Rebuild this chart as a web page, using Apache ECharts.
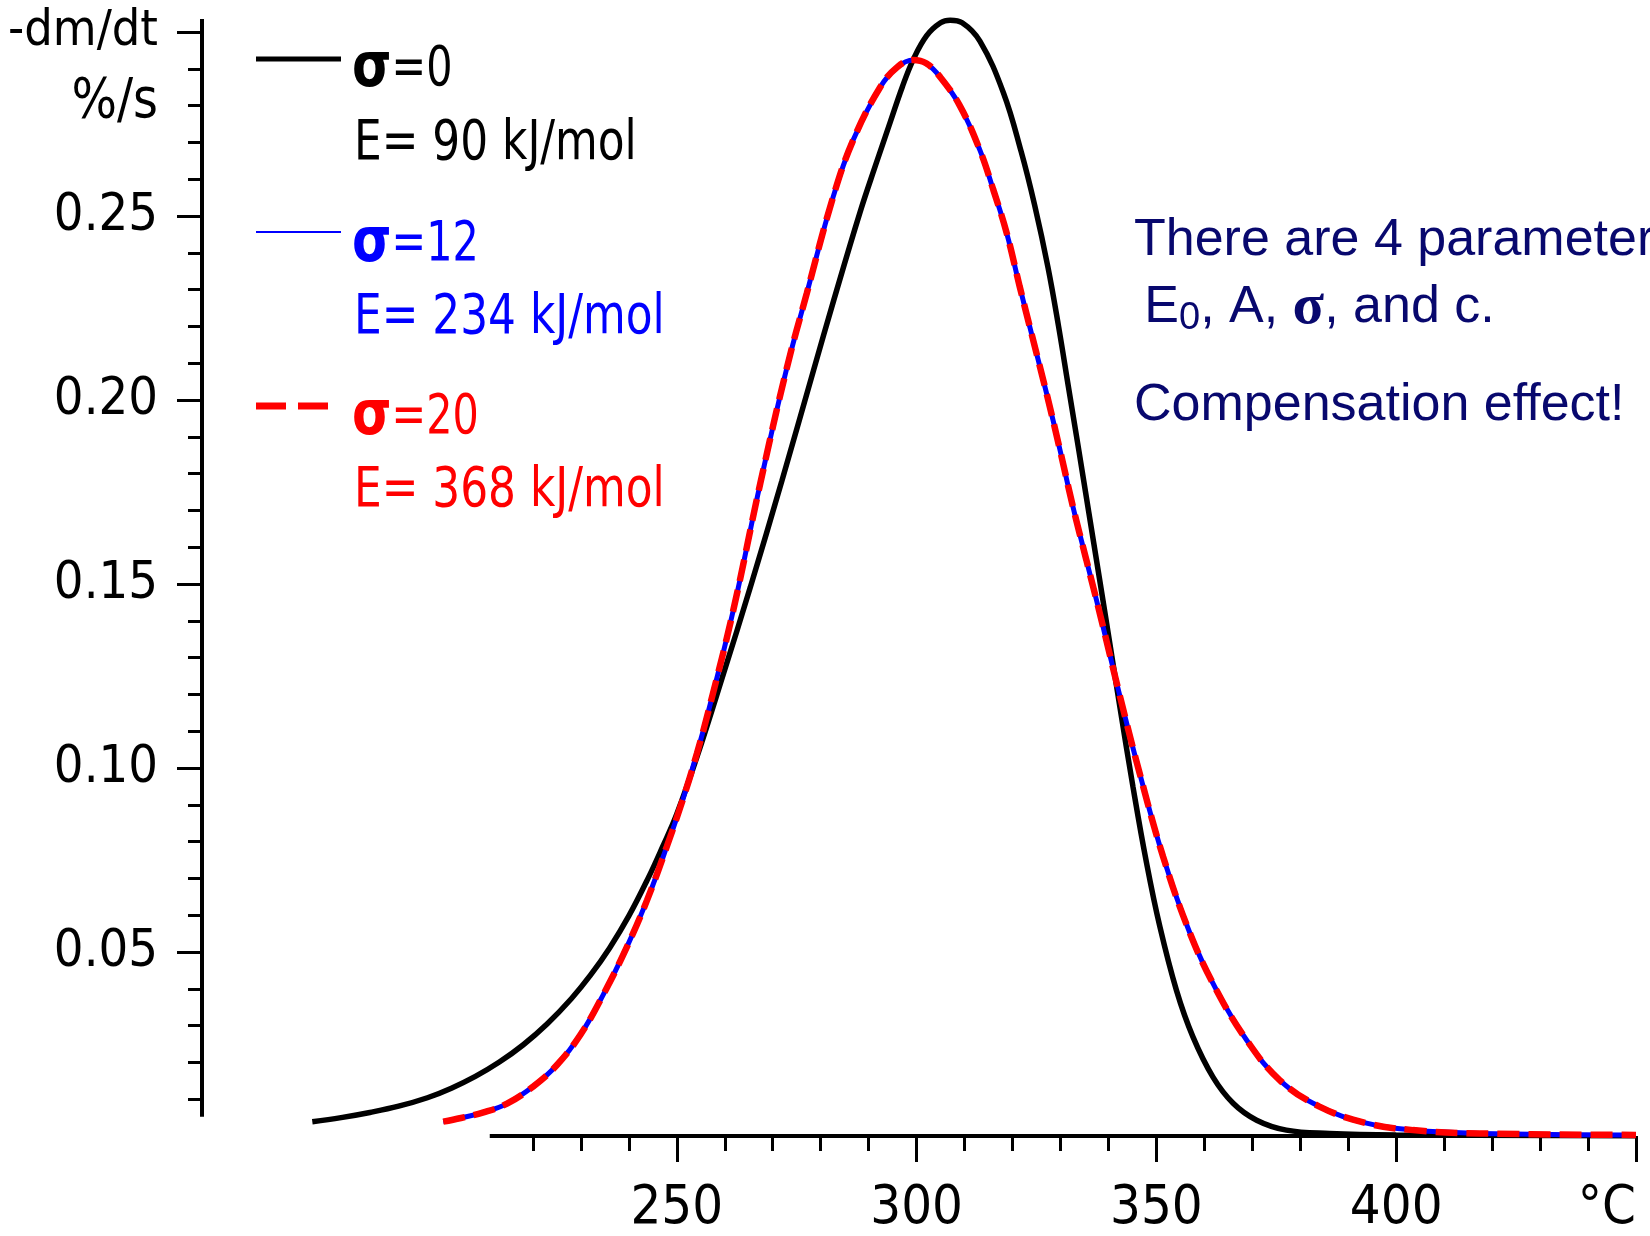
<!DOCTYPE html>
<html>
<head>
<meta charset="utf-8">
<script src="https://cdn.jsdelivr.net/npm/echarts@6/dist/echarts.min.js"></script>
<style>
html,body{margin:0;padding:0;background:#fff;}
#chart{width:1650px;height:1236px;}
</style>
</head>
<body>
<div id="chart"></div>
<script>
// ---- data ----
const tempBlack = [174,180,186,192,198,203,208,213,218,223,228,232,236,240,244,247,250,254.2,259.7,265.3,271.9,278.5,282.7,288.2,291.5,294.5,297,299.3,302.1,305,307,309.5,313.2,318.1,321.8,324.6,327.4,329.6,331.6,333.8,335.9,338.0,339.6,342.4,345.1,347.9,350.7,354.2,357.6,361.8,366.0,370.9,377.1,386.1,400,450];
const rateBlack = [0.0039,0.0050,0.0064,0.0081,0.0104,0.0130,0.0162,0.0201,0.0248,0.0305,0.0373,0.0437,0.0511,0.0598,0.0700,0.0785,0.0875,0.1030,0.1255,0.1490,0.1780,0.2080,0.2270,0.2510,0.2640,0.2755,0.2850,0.2925,0.2990,0.3025,0.3032,0.3025,0.2975,0.2835,0.2675,0.2530,0.2360,0.2200,0.2040,0.1865,0.1695,0.1525,0.1395,0.1165,0.0950,0.0745,0.0570,0.0395,0.0270,0.0160,0.0089,0.0043,0.0016,0.0007,0.0003,0.0001];

const tempSigma12 = [201.3,205,209.7,214.6,220.1,225.0,229.9,234.7,239.6,243.8,247.9,251.4,254.2,257.0,261.8,267.4,272.9,277.1,282.6,286.8,292.4,296,299.3,302,304.9,309.0,313.2,316.0,318.8,321.5,324.3,327.1,329.9,332.6,335.4,338.2,342.4,346.5,351.4,357.0,362.5,368.8,375.7,384.0,393.8,403.5,417.4,450];
const rateSigma12 = [0.0039,0.0049,0.0064,0.0088,0.0135,0.0193,0.0275,0.0385,0.0514,0.0641,0.0786,0.0920,0.1040,0.1175,0.1430,0.1773,0.2085,0.2290,0.2552,0.2707,0.2850,0.2905,0.2924,0.2915,0.2878,0.2800,0.2679,0.2571,0.2453,0.2308,0.2163,0.2018,0.1864,0.1710,0.1565,0.1420,0.1195,0.0986,0.0759,0.0551,0.0397,0.0261,0.0152,0.0080,0.0035,0.0016,0.0007,0.0003];

const tempSigma20 = [201.3,205,209.7,214.6,220.1,225.0,229.9,234.7,239.6,243.8,247.9,251.4,254.2,257.0,261.8,267.4,272.9,277.1,282.6,286.8,292.4,296,299.3,302,304.9,309.0,313.2,316.0,318.8,321.5,324.3,327.1,329.9,332.6,335.4,338.2,342.4,346.5,351.4,357.0,362.5,368.8,375.7,384.0,393.8,403.5,417.4,450];
const rateSigma20 = [0.0039,0.0049,0.0064,0.0088,0.0135,0.0193,0.0275,0.0385,0.0514,0.0641,0.0786,0.0920,0.1040,0.1175,0.1430,0.1773,0.2085,0.2290,0.2552,0.2707,0.2850,0.2905,0.2924,0.2915,0.2878,0.2800,0.2679,0.2571,0.2453,0.2308,0.2163,0.2018,0.1864,0.1710,0.1565,0.1420,0.1195,0.0986,0.0759,0.0551,0.0397,0.0261,0.0152,0.0080,0.0035,0.0016,0.0007,0.0003];

// axis ticks / labels
const xMajorTicks = [250,300,350,400,450];
const xMinorTicks = [220,230,240,260,270,280,290,310,320,330,340,360,370,380,390,410,420,430,440];
const xUnitLabel = '°C';
const yMajorTicks = [0.05,0.10,0.15,0.20,0.25,0.30];
const yMinorTicks = [0.01,0.02,0.03,0.04,0.06,0.07,0.08,0.09,0.11,0.12,0.13,0.14,0.16,0.17,0.18,0.19,0.21,0.22,0.23,0.24,0.26,0.27,0.28,0.29];
const yTopLabel = '-dm/dt';
const yUnitLabel = '%/s';
const xAxisLineSpan = [[211,0],[450,0]];
const yAxisLineSpan = [[151,0.0052],[151,0.3035]];

const legendSigma = ['σ', 'σ', 'σ'];
const legendSigmaValue = ['=0', '=12', '=20'];
const legendEnergy = ['E= 90 kJ/mol', 'E= 234 kJ/mol', 'E= 368 kJ/mol'];
const noteLine1 = 'There are 4 parameters';
const noteLine3 = 'Compensation effect!';

// ---- chart ----
const NARROW = "'DejaVu Sans Condensed','Liberation Sans Narrow',sans-serif";
const SANS = "'Liberation Sans',Arial,sans-serif";
const SERIF = "'Liberation Serif','DejaVu Serif',serif";
const BOLDSANS = "'DejaVu Sans','Liberation Sans',sans-serif";
const NAVY = '#08086e';

const chart = echarts.init(document.getElementById('chart'), null, {renderer:'canvas'});
const pair = (xs, ys) => xs.map((x,i)=>[x, ys[i]]);

const colors = ['#000000','#0000ff','#ff0000'];
const legendY = [70, 245, 418];
const legendEY = [144, 318, 491];
const legendLineY = [59, 232, 406];

const graphics = [];
for (let i=0;i<3;i++){
  const ls = i===0 ? {stroke:colors[i], lineWidth:5} :
             i===1 ? {stroke:colors[i], lineWidth:2} :
                     {stroke:colors[i], lineWidth:7, lineDash:[30,12]};
  graphics.push({type:'line', shape:{x1:256, y1:legendLineY[i], x2:i===2?330:341, y2:legendLineY[i]}, style:ls, z:100});
  graphics.push({type:'text', x:352, y:legendY[i], z:100, scaleX:0.82, style:{
    text:'{s|'+legendSigma[i]+'}{n|'+legendSigmaValue[i]+'}',
    verticalAlign:'middle', fill:colors[i],
    rich:{ s:{font:"bold 62px "+BOLDSANS, fill:colors[i]}, n:{font:"56px "+NARROW, fill:colors[i]} }
  }});
  graphics.push({type:'text', x:354, y:legendEY[i], z:100, scaleX:0.87, style:{
    text:legendEnergy[i], font:"56px "+NARROW, fill:colors[i], verticalAlign:'middle'
  }});
}
graphics.push({type:'text', x:158, y:102, z:100, scaleX:0.95, style:{text:yUnitLabel, font:"56px "+NARROW, fill:'#000', align:'right', verticalAlign:'middle'}});
graphics.push({type:'text', x:1134, y:241, z:100, style:{text:noteLine1, font:"52px "+SANS, fill:NAVY, verticalAlign:'middle'}});
graphics.push({type:'text', x:1141, y:308, z:100, style:{
  text:' {t|E}{sub|0}{t|, A, }{g|σ}{t|, and c.}', verticalAlign:'middle',
  rich:{ t:{font:"52px "+SANS, fill:NAVY, lineHeight:60, verticalAlign:'middle'},
         sub:{font:"38px "+SANS, fill:NAVY, lineHeight:26, verticalAlign:'bottom'},
         g:{font:"bold 58px "+SERIF, fill:NAVY, lineHeight:60, verticalAlign:'middle'} }
}});
graphics.push({type:'text', x:1134, y:406, z:100, style:{text:noteLine3, font:"52px "+SANS, fill:NAVY, verticalAlign:'middle'}});

const yMax = 0.305;
const option = {
  animation:false,
  backgroundColor:'#ffffff',
  grid:{left:202, right:14, top:1136 - yMax*3680, bottom:100, containLabel:false, outerBoundsMode:'none'},
  xAxis:[
    {type:'value', min:151, max:450, position:'bottom', gridIndex:0,
     axisLine:{show:false}, splitLine:{show:false},
     axisTick:{show:true, customValues:xMajorTicks, length:26, lineStyle:{color:'#000', width:3}},
     axisLabel:{show:true, customValues:xMajorTicks, margin:46, color:'#000', fontSize:54, fontFamily:NARROW,
       formatter:(v)=> v===450 ? xUnitLabel : String(v), alignMaxLabel:'right'}},
    {type:'value', min:151, max:450, position:'bottom', gridIndex:0,
     axisLine:{show:false}, splitLine:{show:false},
     axisTick:{show:true, customValues:xMinorTicks, length:15, lineStyle:{color:'#000', width:3}},
     axisLabel:{show:false}}
  ],
  yAxis:[
    {type:'value', min:0, max:yMax, position:'left', gridIndex:0,
     axisLine:{show:false}, splitLine:{show:false},
     axisTick:{show:true, customValues:yMajorTicks, length:25, lineStyle:{color:'#000', width:3}},
     axisLabel:{show:true, customValues:yMajorTicks, margin:44, color:'#000', fontSize:52, fontFamily:NARROW,
       formatter:(v)=> Math.abs(v-0.30)<1e-9 ? '{t|' + yTopLabel + '}' : v.toFixed(2),
       rich:{t:{fontSize:50, fontFamily:NARROW, color:'#000'}}}},
    {type:'value', min:0, max:yMax, position:'left', gridIndex:0,
     axisLine:{show:false}, splitLine:{show:false},
     axisTick:{show:true, customValues:yMinorTicks, length:14, lineStyle:{color:'#000', width:3}},
     axisLabel:{show:false}}
  ],
  series:[
    {type:'line', data:xAxisLineSpan, symbol:'none', silent:true, clip:false, z:1,
     lineStyle:{color:'#000', width:4}},
    {type:'line', data:yAxisLineSpan, symbol:'none', silent:true, clip:false, z:1,
     lineStyle:{color:'#000', width:4}},
    {name:'σ=0', type:'line', data:pair(tempBlack, rateBlack), symbol:'none', smooth:0.4, clip:false, z:3,
     lineStyle:{color:'#000', width:5.5}},
    {name:'σ=12', type:'line', data:pair(tempSigma12, rateSigma12), symbol:'none', smooth:0.4, clip:false, z:4,
     lineStyle:{color:'#0000ff', width:5}},
    {name:'σ=20', type:'line', data:pair(tempSigma20, rateSigma20), symbol:'none', smooth:0.4, clip:false, z:5,
     lineStyle:{color:'#ff0000', width:6.5, type:[22,9]}}
  ],
  graphic:graphics
};
chart.setOption(option);
</script>
</body>
</html>
